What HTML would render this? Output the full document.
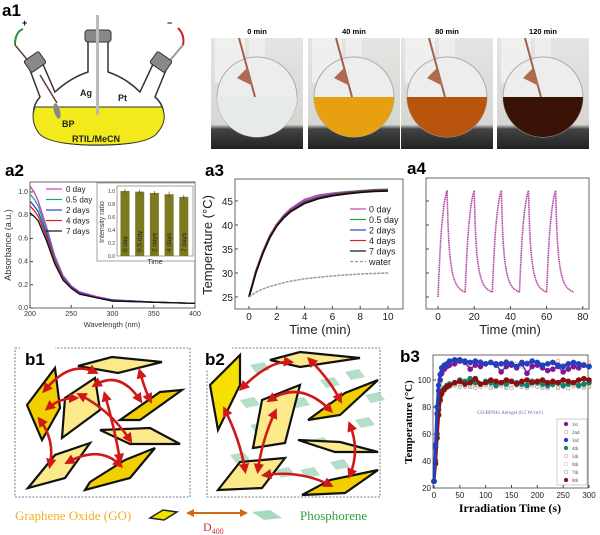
<!DOCTYPE html>
<html><head><meta charset="utf-8"><style>
body{margin:0;background:#fff;}
svg{display:block;font-family:"Liberation Sans",sans-serif;}
.lab{font-size:17px;font-weight:bold;}
.tk{font-size:7px;fill:#333;}
.tk2{font-size:10px;fill:#222;}
</style></head><body>
<svg id="fig" width="600" height="535" viewBox="0 0 600 535">
<defs>
<linearGradient id="bg" x1="0" y1="0" x2="0" y2="1"><stop offset="0" stop-color="#e4e4e2"/><stop offset="0.78" stop-color="#d6d6d3"/><stop offset="0.82" stop-color="#444"/><stop offset="1" stop-color="#222"/></linearGradient>
<marker id="ah" viewBox="0 0 10 10" refX="6" refY="5" markerWidth="4" markerHeight="4" orient="auto-start-reverse"><path d="M0,0 L10,5 L0,10z" fill="#d01818"/></marker>
</defs>
<!-- a1 -->
<g>
<text x="2" y="16" class="lab">a1</text>
<text x="22" y="26" font-size="9" font-weight="bold">+</text>
<text x="167" y="26" font-size="9" font-weight="bold">−</text>
<path d="M15,45 Q15,32 23,29" stroke="#2a8a3a" stroke-width="2" fill="none"/>
<path d="M178,28 Q185,35 183,45" stroke="#d02020" stroke-width="2" fill="none"/>
<path d="M15,45 L40,75" stroke="#6a3a30" stroke-width="1.5"/>
<path d="M183,45 L118,122" stroke="#999" stroke-width="2"/>
<path d="M40,97 L30,70 L42,62 L55,92 Q70,78 88,72 L88,38 L108,38 L108,72 Q126,78 140,92 L154,62 L166,70 L155,97 Q170,110 158,130 Q150,145 98,145 Q46,145 38,130 Q28,110 40,97Z" fill="#fff" stroke="#333" stroke-width="1.5"/>
<path d="M35,107 L162,107 Q168,120 158,132 Q150,145 98,145 Q46,145 38,132 Q30,120 35,107Z" fill="#f2ea1a" stroke="#333" stroke-width="1"/>
<rect x="85" y="30" width="26" height="12" rx="3" fill="#888" stroke="#333"/>
<rect x="96" y="15" width="3" height="100" fill="#bbb"/>
<rect x="26" y="55" width="18" height="14" rx="2" fill="#888" stroke="#333" transform="rotate(-35 35 62)"/>
<rect x="152" y="55" width="18" height="14" rx="2" fill="#888" stroke="#333" transform="rotate(35 161 62)"/>
<path d="M40,75 L57,103" stroke="#6a3a30" stroke-width="1.5"/>
<ellipse cx="57" cy="111" rx="3" ry="8" fill="#888" transform="rotate(-15 57 111)"/>
<text x="62" y="127" font-size="9" font-weight="bold" fill="#222">BP</text>
<text x="80" y="96" font-size="9" font-weight="bold" fill="#222">Ag</text>
<text x="118" y="101" font-size="9" font-weight="bold" fill="#222">Pt</text>
<text x="72" y="142" font-size="9" font-weight="bold" fill="#222">RTIL/MeCN</text>
</g>
<!-- photos -->
<g id="photos"></g>
<!-- a2 -->
<g id="a2">
<text x="5" y="176" class="lab">a2</text>
<rect x="30" y="182" width="165" height="126" fill="none" stroke="#444" stroke-width="0.8"/>
<text transform="translate(11,245) rotate(-90)" text-anchor="middle" font-size="9" fill="#333">Absorbance (a.u.)</text>
<text x="112" y="327" text-anchor="middle" font-size="7.5" fill="#333">Wavelength (nm)</text>
</g>
<!-- a3 -->
<g id="a3">
<text x="205" y="176" class="lab">a3</text>
<rect x="235" y="179" width="168" height="130" fill="none" stroke="#444" stroke-width="0.8"/>
<text transform="translate(212,245) rotate(-90)" text-anchor="middle" font-size="13" fill="#222">Temperature (°C)</text>
<text x="320" y="334" text-anchor="middle" font-size="13" fill="#222">Time (min)</text>
</g>
<!-- a4 -->
<g id="a4">
<text x="407" y="174" class="lab">a4</text>
<rect x="426" y="178" width="163" height="131" fill="none" stroke="#444" stroke-width="0.8"/>
<text x="510" y="334" text-anchor="middle" font-size="13" fill="#222">Time (min)</text>
</g>
<!-- b1 b2 -->
<g id="b12">
<rect x="15" y="348" width="175" height="149" fill="none" stroke="#557" stroke-width="0.8" stroke-dasharray="2,1.5"/>
<rect x="207" y="348" width="173" height="149" fill="none" stroke="#557" stroke-width="0.8" stroke-dasharray="2,1.5"/>
<rect x="20" y="345" width="35" height="25" fill="#fff"/>
<rect x="202" y="345" width="30" height="25" fill="#fff"/>
<text x="25" y="365" class="lab">b1</text>
<text x="205" y="365" class="lab">b2</text>
</g>
<g>
<text x="15" y="520" font-family="Liberation Serif,serif" font-size="13" fill="#f0b020">Graphene Oxide (GO)</text>
<path d="M150,518 L163,510 L177,512 L164,520Z" fill="#f5e000" stroke="#222" stroke-width="1.5"/>
<path d="M188,513 L246,513" stroke="#d06a10" stroke-width="2"/>
<path d="M186,513 L194,509 L194,517Z M248,513 L240,509 L240,517Z" fill="#d06a10"/>
<path d="M252,512 L270,510 L282,518 L264,520Z" fill="#a8d8c0"/>
<text x="300" y="520" font-family="Liberation Serif,serif" font-size="13" fill="#30a040">Phosphorene</text>
<text x="203" y="531" font-family="Liberation Serif,serif" font-size="12" fill="#d03030">D<tspan font-size="8" dy="3">400</tspan></text>
</g>
<!-- b3 -->
<g id="b3">
<text x="400" y="362" class="lab">b3</text>
<rect x="433" y="355" width="155" height="133" fill="none" stroke="#444" stroke-width="0.8"/>
<text transform="translate(412,422) rotate(-90)" text-anchor="middle" font-family="Liberation Serif,serif" font-weight="bold" font-size="11">Temperature (°C)</text>
<text x="510" y="512" text-anchor="middle" font-family="Liberation Serif,serif" font-weight="bold" font-size="12">Irradiation Time (s)</text>
<text x="510" y="414" text-anchor="middle" font-family="Liberation Serif,serif" font-size="5" fill="#7060b0">GO/BPNFs Aerogel (0.5 W/cm²)</text>
</g>
</svg>
<script>
const NS='http://www.w3.org/2000/svg';
function mk(parent,tag,attrs,txt){const e=document.createElementNS(NS,tag);for(const k in attrs)e.setAttribute(k,attrs[k]);if(txt!==undefined)e.textContent=txt;parent.appendChild(e);return e;}

// ---------- photos ----------
const photoLabels=['0 min','40 min','80 min','120 min'];
const photoColors=['#e6eaea','#e6a010','#b8540e','#3a1208'];
const photoX=[211,308,401,497];
(function(){
 const g=document.getElementById('photos');
 photoLabels.forEach((l,i)=>{
  const x=photoX[i],w=92;
  const t=mk(g,'text',{x:x+w/2,y:34,'text-anchor':'middle','font-size':'7.5','font-weight':'bold'},l);
  
  
  const r=mk(g,'rect',{x:x,y:38,width:w,height:111,fill:'url(#bg)'});
  
  
  mk(g,'rect',{x:x+4,y:38,width:30,height:45,fill:'#f2f2f2',opacity:0.8});
  mk(g,'rect',{x:x+38,y:38,width:16,height:30,fill:'#f0f0f0',opacity:0.8});
  mk(g,'circle',{cx:x+46,cy:97,r:40,fill:'#eceeee',stroke:'#aaa'});
  mk(g,'path',{d:`M${x+6},97 L${x+86},97 A40,40 0 0,1 ${x+6},97Z`,fill:photoColors[i]});
  mk(g,'path',{d:`M${x+28},38 L${x+44},97`,stroke:'#a0604a','stroke-width':2});
  mk(g,'path',{d:`M${x+36},68 L${x+26},78 L${x+42},86Z`,fill:'#b06a50'});
 });
})();

// ---------- a2 ----------
const a2Wave=[200,205,210,220,230,240,250,260,280,300,350,400];
const a2Names=['0 day','0.5 day','2 days','4 days','7 days'];
const a2Colors=['#c040c0','#20a090','#3040c0','#e02020','#111'];
const a2Abs=[
 [1.05,1.0,0.92,0.7,0.45,0.28,0.19,0.14,0.1,0.07,0.05,0.04],
 [0.98,0.94,0.88,0.67,0.43,0.27,0.18,0.13,0.09,0.07,0.05,0.04],
 [0.92,0.88,0.83,0.64,0.41,0.26,0.18,0.13,0.09,0.07,0.05,0.04],
 [0.88,0.84,0.79,0.61,0.4,0.25,0.17,0.12,0.09,0.06,0.05,0.04],
 [0.82,0.79,0.75,0.58,0.38,0.24,0.17,0.12,0.09,0.06,0.05,0.04]];
const a2XTicks=[200,250,300,350,400];
const a2YTicks=[0.0,0.2,0.4,0.6,0.8,1.0];
const insetNames=['0 day','0.5 day','2 days','4 days','7 days'];
const insetVals=[1.0,0.99,0.97,0.95,0.91];
const insetErr=[0.03,0.03,0.03,0.04,0.03];
const insetYTicks=[0.0,0.2,0.4,0.6,0.8,1.0];
(function(){
 const g=document.getElementById('a2');
 const X=v=>30+(v-200)/200*165, Y=v=>308-v*116;
 a2XTicks.forEach(t=>{mk(g,'line',{x1:X(t),x2:X(t),y1:308,y2:305,stroke:'#444'});mk(g,'text',{x:X(t),y:316,'text-anchor':'middle',class:'tk'},t);});
 a2YTicks.forEach(t=>{mk(g,'line',{x1:30,x2:33,y1:Y(t),y2:Y(t),stroke:'#444'});mk(g,'text',{x:28,y:Y(t)+2,'text-anchor':'end',class:'tk'},t.toFixed(1));});
 a2Abs.forEach((s,i)=>{
  const p=mk(g,'polyline',{points:s.map((v,j)=>X(a2Wave[j])+','+Y(v)).join(' '),fill:'none',stroke:a2Colors[i],'stroke-width':1.3});
  
  
  const ly=189+i*10.5;
  mk(g,'line',{x1:46,x2:62,y1:ly,y2:ly,stroke:a2Colors[i],'stroke-width':1.2});
  mk(g,'text',{x:66,y:ly+3,'font-size':'8',fill:'#222'},a2Names[i]);
 });
 const IX=i=>125+i*14.7, IY=v=>256-v*65;
 mk(g,'rect',{x:97,y:183,width:98,height:78,fill:'#fff',stroke:'#666','stroke-width':0.6});
 mk(g,'rect',{x:117,y:186,width:76,height:70,fill:'none',stroke:'#666','stroke-width':0.6});
 insetYTicks.forEach(t=>mk(g,'text',{x:115,y:IY(t)+2,'text-anchor':'end','font-size':'5',fill:'#333'},t.toFixed(1)));
 mk(g,'text',{transform:'translate(104,222) rotate(-90)','text-anchor':'middle','font-size':'7',fill:'#333'},'Intensity ratio');
 mk(g,'text',{x:155,y:264,'text-anchor':'middle','font-size':'7',fill:'#333'},'Time');
 insetVals.forEach((v,i)=>{
  const b=mk(g,'rect',{x:IX(i)-4.5,y:IY(v),width:9,height:256-IY(v),fill:'#7b7a20'});
  
  
  mk(g,'line',{x1:IX(i),x2:IX(i),y1:IY(v+insetErr[i]),y2:IY(v-insetErr[i]),stroke:'#333','stroke-width':0.6});
  mk(g,'text',{transform:`translate(${IX(i)+2},252) rotate(-90)`,'font-size':'6.5',fill:'#222'},insetNames[i]);
 });
})();

// ---------- a3 ----------
const a3Time=[0,0.5,1,1.5,2,2.5,3,4,5,6,7,8,9,10];
const a3Names=['0 day','0.5 day','2 days','4 days','7 days','water'];
const a3Colors=['#c040c0','#20a040','#3040c0','#e02020','#111','#999'];
const a3Temp=[
 [25,30.5,34.5,37.8,40.2,42,43.4,45.3,46.2,46.6,46.9,47.1,47.3,47.4],
 [25,30.3,34.3,37.6,40,41.8,43.1,44.9,45.8,46.4,46.8,47.1,47.3,47.4],
 [25,30.2,34.2,37.5,39.9,41.7,43,44.8,45.7,46.3,46.7,47,47.2,47.3],
 [25,30.2,34.2,37.5,39.9,41.6,42.9,44.6,45.6,46.2,46.6,46.9,47.1,47.2],
 [25,30.1,34.1,37.4,39.8,41.5,42.8,44.5,45.5,46.1,46.5,46.8,47,47.1],
 [25,26,26.7,27.2,27.6,28,28.3,28.8,29.1,29.4,29.6,29.8,29.9,30]];
const a3XTicks=[0,2,4,6,8,10];
const a3YTicks=[25,30,35,40,45];
(function(){
 const g=document.getElementById('a3');
 const X=v=>249+v*13.9, Y=v=>297-(v-25)*4.8;
 a3XTicks.forEach(t=>{mk(g,'line',{x1:X(t),x2:X(t),y1:309,y2:306,stroke:'#444'});mk(g,'text',{x:X(t),y:320,'text-anchor':'middle',class:'tk2'},t);});
 a3YTicks.forEach(t=>{mk(g,'line',{x1:235,x2:238,y1:Y(t),y2:Y(t),stroke:'#444'});mk(g,'text',{x:233,y:Y(t)+4,'text-anchor':'end',class:'tk2'},t);});
 a3Temp.forEach((s,i)=>{
  const p=mk(g,'polyline',{points:s.map((v,j)=>X(a3Time[j])+','+Y(v)).join(' '),fill:'none',stroke:a3Colors[i],'stroke-width':i==5?1.5:1.8,'stroke-dasharray':i==5?'3,1':''});
  
  
  const ly=209+i*10.5;
  mk(g,'line',{x1:350,x2:366,y1:ly,y2:ly,stroke:a3Colors[i],'stroke-width':1.2,'stroke-dasharray':i==5?'3,2':''});
  mk(g,'text',{x:369,y:ly+3.5,'font-size':'9',fill:'#222'},a3Names[i]);
 });
})();

// ---------- a4 ----------
const a4CycleStart=[0,15,30,45,60];
const a4HeatT=[0,0.5,1,1.5,2,2.5,3,3.5,4,4.5,5];
const a4HeatV=[25,29.5,33.5,37,39.5,41.5,43.2,44.6,45.7,46.6,47.2];
const a4CoolT=[5,5.3,5.6,6,6.5,7,7.5,8,9,10,11,12,13,14,15];
const a4CoolV=[47.2,43,39.5,36.5,34,32.3,31,30,28.6,27.7,27.1,26.7,26.4,26.2,26];
const a4XTicks=[0,20,40,60,80];
const a4YTicks=[25,30,35,40,45];
(function(){
 const g=document.getElementById('a4');
 const X=v=>438+v*1.81, Y=v=>297-(v-25)*4.8;
 a4XTicks.forEach(t=>{mk(g,'line',{x1:X(t),x2:X(t),y1:309,y2:306,stroke:'#444'});mk(g,'text',{x:X(t),y:320,'text-anchor':'middle',class:'tk2'},t);});
 a4YTicks.forEach(t=>mk(g,'line',{x1:426,x2:429,y1:Y(t),y2:Y(t),stroke:'#444'}));
 a4CycleStart.forEach((c,k)=>{
  const start=k==0?a4HeatV[0]:a4CoolV[a4CoolV.length-1];
  const pts=[];
  a4HeatT.forEach((t,j)=>pts.push([c+t,k==0?a4HeatV[j]:start+(a4HeatV[j]-25)*(47.2-start)/(47.2-25)]));
  a4CoolT.forEach((t,j)=>pts.push([c+t,a4CoolV[j]]));
  const p=mk(g,'polyline',{points:pts.map(q=>X(q[0])+','+Y(q[1])).join(' '),fill:'none',stroke:'#b03aa0','stroke-width':1.6,'stroke-dasharray':'1.2,0.6'});
  
  
 });
})();

// ---------- b1/b2 sheets ----------
(function(){
 const g=document.getElementById('b12');
 function para(pts,fill){mk(g,'path',{d:'M'+pts.join(' L')+'Z',fill:fill,stroke:'#111','stroke-width':2.2});}
 const ph=[[250,365],[320,380],[345,372],[230,455],[275,470],[300,470],[355,420],[250,425],[290,400],[330,462],[240,400],[365,395],[310,440]];
 ph.forEach(p=>mk(g,'path',{d:`M${p[0]},${p[1]} l14,-3 l6,8 l-14,3z`,fill:'#a8d8c0',opacity:0.85}));
 // b1
 para([[27,405],[55,368],[60,408],[42,440]],'#f2d000');
 para([[78,366],[112,357],[162,362],[118,373]],'#fbe98a');
 para([[65,398],[95,378],[100,410],[62,438]],'#fbe98a');
 para([[120,420],[160,392],[182,390],[140,420]],'#f2d000');
 para([[100,430],[150,428],[180,444],[130,444]],'#fbe98a');
 para([[28,488],[55,455],[90,443],[65,478]],'#fbe98a');
 para([[90,482],[125,460],[155,448],[130,478],[85,490]],'#f2d000');
 // b2
 para([[210,385],[240,355],[240,385],[218,430]],'#f5e000');
 para([[270,360],[300,352],[360,358],[300,367]],'#fbe98a');
 para([[262,400],[300,385],[285,443],[253,448]],'#fbe98a');
 para([[308,420],[345,393],[378,380],[340,415]],'#f2d000');
 para([[298,440],[340,442],[378,452],[335,452]],'#fbe98a');
 para([[218,490],[240,462],[285,458],[262,488]],'#fbe98a');
 para([[302,495],[330,480],[378,470],[345,493]],'#f2d000');
 const arrows=[
  'M45,390 Q70,360 95,372','M48,408 Q60,398 75,398','M40,420 Q55,440 50,465','M80,395 Q110,410 130,440',
  'M95,385 Q120,370 140,400','M140,372 Q145,390 150,400','M105,395 Q115,430 120,460','M68,462 Q100,445 120,465',
  'M242,388 Q270,360 290,362','M225,410 Q240,440 245,470','M258,470 Q262,440 275,412','M270,400 Q300,380 330,410',
  'M310,360 Q330,380 340,400','M265,475 Q300,470 330,485','M350,425 Q360,450 350,475'];
 arrows.forEach(d=>{const a=mk(g,'path',{d:d,fill:'none',stroke:'#d01818','stroke-width':2.6,'marker-start':'url(#ah)','marker-end':'url(#ah)'});});
})();

// ---------- b3 ----------
const b3Time=[0,3,6,9,12,15,20,25,30,40,50,60,70,80,90,100,110,120,130,140,150,160,170,180,190,200,210,220,230,240,250,260,270,280,290,300];
const b3Names=['1st','2nd','3rd','4th','5th','6th','7th','8th'];
const b3Colors=['#7a1a9a','#f0a080','#2040c0','#108070','#d0a0d0','#d8d890','#aaaaaa','#8a1010'];
const b3Filled=[true,false,true,true,false,false,false,true];
const b3Vals=[
 [25,50,75,92,100,105,108,110,111,112,114,113,108,111,110,112,113,112,106,110,111,109,112,105,110,111,109,107,108,110,106,108,110,109,111,110],
 [25,48,72,90,98,104,108,111,113,115,114,113,112,111,114,112,113,111,112,114,113,112,110,113,112,111,110,112,113,114,111,110,109,111,112,113],
 [25,52,80,96,104,109,111,112,114,115,115,114,113,114,113,112,113,111,112,113,112,110,113,112,114,113,111,112,113,111,110,112,113,112,111,110],
 [25,40,60,78,88,92,94,96,97,98,100,99,101,98,97,99,98,96,98,97,99,98,97,96,99,98,97,96,97,98,96,97,98,96,97,98],
 [25,40,60,76,86,90,93,95,96,96,97,95,96,98,95,96,97,95,96,94,96,97,95,96,98,95,96,94,96,97,95,94,96,95,96,95],
 [25,40,58,75,86,90,93,95,96,97,96,97,95,96,97,96,95,97,96,95,96,97,96,95,96,97,95,96,97,95,96,97,95,96,95,96],
 [25,40,58,75,85,89,92,94,95,96,95,96,95,94,95,96,94,95,96,95,94,96,95,94,96,95,94,95,96,94,95,94,96,95,94,95],
 [25,38,57,74,85,90,93,95,96,98,99,97,98,101,97,98,100,99,98,100,99,97,99,100,98,99,100,98,99,98,100,99,98,100,101,100]];
const b3XTicks=[0,50,100,150,200,250,300];
const b3YTicks=[20,40,60,80,100];
(function(){
 const g=document.getElementById('b3');
 const X=v=>434+v/300*155, Y=v=>488-(v-20)*1.35;
 b3XTicks.forEach(t=>{mk(g,'line',{x1:X(t),x2:X(t),y1:488,y2:485,stroke:'#444'});mk(g,'text',{x:X(t),y:498,'text-anchor':'middle','font-size':'8',fill:'#222'},t);});
 b3YTicks.forEach(t=>{mk(g,'line',{x1:433,x2:436,y1:Y(t),y2:Y(t),stroke:'#444'});mk(g,'text',{x:431,y:Y(t)+3,'text-anchor':'end','font-size':'8',fill:'#222'},t);});
 const order=[4,5,6,1,3,0,7,2];
 order.forEach(i=>{
  const s=b3Vals[i];
  s.forEach((v,j)=>{
   const c=mk(g,'circle',{cx:X(b3Time[j]),cy:Y(v),r:b3Filled[i]?2.4:1.8,fill:b3Filled[i]?b3Colors[i]:'none',stroke:b3Colors[i],'stroke-width':0.8});
   
   
  });
  if(b3Filled[i]) mk(g,'polyline',{points:s.map((v,j)=>X(b3Time[j])+','+Y(v)).join(' '),fill:'none',stroke:b3Colors[i],'stroke-width':i==2||i==7?3:1.5});
 });
 mk(g,'rect',{x:557,y:419,width:30,height:66,fill:'#fff',stroke:'#999','stroke-width':0.5});
 b3Names.forEach((n,i)=>{
  const ly=424+i*8;
  mk(g,'circle',{cx:566,cy:ly,r:1.8,fill:b3Filled[i]?b3Colors[i]:'none',stroke:b3Colors[i],'stroke-width':0.7});
  mk(g,'text',{x:572,y:ly+2,'font-size':'5','font-family':'Liberation Serif,serif',fill:'#444'},n);
 });
})();
</script>
</body></html>
